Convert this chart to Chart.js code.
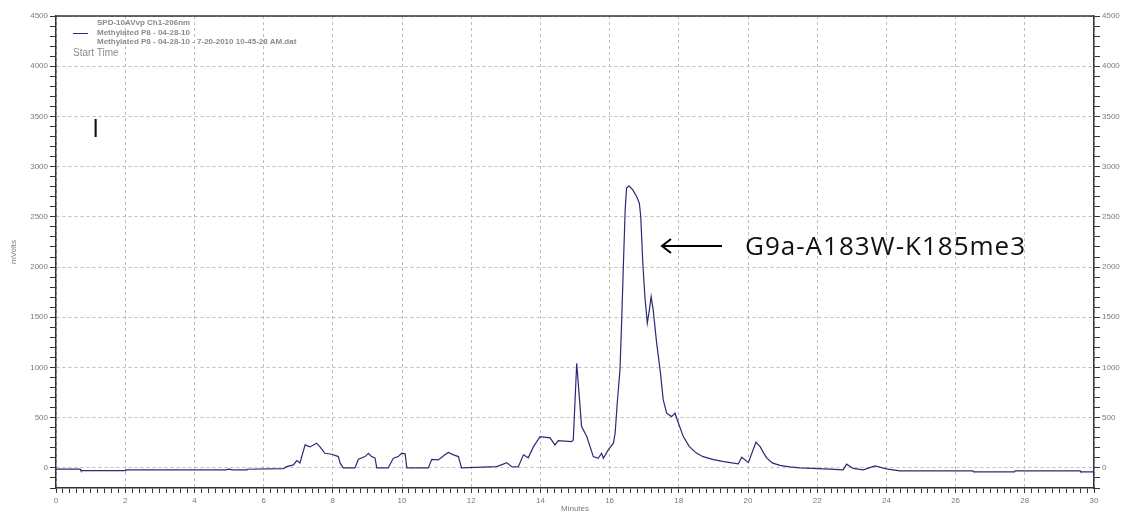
<!DOCTYPE html>
<html>
<head>
<meta charset="utf-8">
<script src="https://cdn.jsdelivr.net/npm/chart.js@4/dist/chart.umd.min.js"></script>
<style>
  body { margin: 0; background: #fff; }
  #wrap { position: relative; width: 1131px; height: 514px; overflow: hidden; }
  .note { position: absolute; white-space: nowrap; font-family: "Liberation Sans", Arial, sans-serif; }
  .leg { color: #8a8a8a; font-size: 8px; font-weight: bold; line-height: 9px; }
  .big { font-family: "Open Sans", sans-serif; font-size: 26px; color: #111; line-height: 1; }
</style>
</head>
<body>
<div id="wrap">
  <canvas id="hplc-chart" width="1131" height="514"></canvas>
  <div class="note leg" style="left:97px; top:18px;">SPD-10AVvp Ch1-206nm</div>
  <div class="note leg" style="left:97px; top:28px;">Methylated P8 - 04-28-10</div>
  <div class="note leg" style="left:97px; top:37px;">Methylated P8 - 04-28-10 - 7-20-2010 10-45-28 AM.dat</div>
  <div class="note" style="left:73px; top:33px; width:15px; height:0; border-top:1px solid #2b2b75;"></div>
  <div class="note" style="left:73px; top:47px; font-size:10px; color:#8a8a8a;">Start Time</div>
  <div class="note big" style="left:92px; top:114px;">I</div>
  <div class="note big" style="left:745px; top:232px; letter-spacing:1px;">G9a-A183W-K185me3</div>
</div>
<script>
// trace (minutes, mVolts)
var minutes = [0, 0.7, 0.72, 2.0, 2.02, 4.9, 5.0, 5.1, 5.5, 5.52, 6.57, 6.67, 6.86, 6.96, 7.05, 7.2, 7.34, 7.53, 7.63, 7.77, 7.97, 8.16, 8.21, 8.3,
  8.64, 8.74, 8.93, 9.03, 9.12, 9.22, 9.27, 9.6, 9.75, 9.89, 9.99, 10.09, 10.14, 10.76, 10.86, 11.05, 11.24, 11.34, 11.49, 11.63, 11.72,
  12.74, 13.03, 13.17, 13.36, 13.51, 13.65, 13.8, 13.99, 14.28, 14.42, 14.52, 14.9, 14.95, 15.05, 15.19, 15.34, 15.53, 15.67, 15.77, 15.82,
  15.96, 16.11, 16.16, 16.22, 16.3, 16.35, 16.4, 16.45, 16.49, 16.56, 16.67, 16.78, 16.86, 16.9, 16.96, 17.02, 17.09, 17.15, 17.2, 17.26,
  17.36, 17.46, 17.55, 17.65, 17.79, 17.89, 17.99, 18.13, 18.3, 18.5, 18.7, 19.0, 19.3, 19.72, 19.82, 20.01, 20.23, 20.35, 20.45, 20.54,
  20.7, 20.92, 21.2, 21.5, 22.37, 22.75, 22.85, 23.04, 23.33, 23.67, 24.0, 24.39, 26.5, 26.52, 27.7, 27.72, 29.6, 29.62, 30];
var mvolts = [-13, -13, -27, -27, -20, -20, -12, -20, -20, -13, -7, 13, 30, 73, 50, 229, 209, 246, 209, 146, 136, 113, 50, 0,
  0, 86, 113, 146, 113, 100, 0, 0, 96, 113, 146, 140, 0, 0, 86, 80, 130, 153, 130, 113, 0,
  13, 53, 13, 10, 130, 100, 212, 312, 299, 229, 272, 262, 279, 1043, 411, 312, 113, 96, 146, 96,
  179, 246, 345, 644, 976, 1474, 2039, 2570, 2786, 2809, 2769, 2702, 2636, 2503, 2039, 1706, 1441, 1574, 1706, 1574,
  1242, 976, 677, 545, 511, 545, 445, 312, 215, 150, 112, 82, 62, 40, 106, 53, 256, 212, 150, 100,
  50, 25, 10, 0, -13, -20, 37, -5, -20, 20, -10, -30, -30, -40, -40, -30, -30, -40, -40];

var xMajor = 2;
var yMajor = 500;

function isMajor(v, step) {
  var r = v / step;
  return Math.abs(r - Math.round(r)) < 1e-6;
}

var points = minutes.map(function (m, i) { return { x: m, y: mvolts[i] }; });

var tickFont = { family: 'Liberation Sans, Arial, sans-serif', size: 8 };
var gridGray = '#bdbdbd';
var gridColorY = function (c) { return isMajor(c.tick.value, yMajor) ? gridGray : 'rgba(0,0,0,0)'; };

// solid line along the top of the plot frame
var topFrame = {
  id: 'topFrame',
  afterDraw: function (chart) {
    var a = chart.chartArea, ctx = chart.ctx;
    ctx.save();
    ctx.strokeStyle = '#333';
    ctx.lineWidth = 1.5;
    ctx.beginPath();
    ctx.moveTo(a.left, a.top);
    ctx.lineTo(a.right, a.top);
    ctx.stroke();
    // arrow pointing at the main peak
    ctx.strokeStyle = '#000';
    ctx.lineWidth = 2;
    ctx.beginPath();
    ctx.moveTo(722, 246);
    ctx.lineTo(662, 246);
    ctx.moveTo(671, 239);
    ctx.lineTo(662, 246);
    ctx.lineTo(671, 253);
    ctx.stroke();
    ctx.restore();
  }
};

var yAxisCommon = {
  type: 'linear',
  min: -200,
  max: 4500,
  ticks: {
    stepSize: 100,
    autoSkip: false,
    font: tickFont,
    color: '#7a7a7a',
    padding: 2,
    callback: function (v) { return isMajor(v, yMajor) ? v : ''; }
  },
  border: { display: true, color: '#333', width: 1.5, dash: [3, 3] }
};

var chart = new Chart(document.getElementById('hplc-chart'), {
  type: 'line',
  data: {
    datasets: [{
      label: 'Methylated P8 - 04-28-10',
      data: points,
      borderColor: '#2b2b75',
      borderWidth: 1.2,
      pointRadius: 0,
      tension: 0,
      yAxisID: 'y'
    }]
  },
  options: {
    responsive: false,
    animation: false,
    layout: { padding: { top: 16, left: 0, right: 0, bottom: 0 } },
    plugins: { legend: { display: false }, tooltip: { enabled: false } },
    scales: {
      x: {
        type: 'linear',
        min: 0,
        max: 30,
        ticks: {
          stepSize: 0.2,
          autoSkip: false,
          maxRotation: 0,
          font: tickFont,
          color: '#7a7a7a',
          padding: 3,
          callback: function (v) { return isMajor(v, xMajor) ? Math.round(v) : ''; }
        },
        grid: {
          color: function (c) { return isMajor(c.tick.value, xMajor) ? gridGray : 'rgba(0,0,0,0)'; },
          tickColor: '#333',
          tickLength: 5
        },
        border: { display: true, color: '#333', width: 1.5, dash: [3, 3] },
        title: { display: true, text: 'Minutes', font: tickFont, color: '#7a7a7a', padding: 0 },
        afterFit: function (s) { s.height = 26; }
      },
      y: Object.assign({}, yAxisCommon, {
        position: 'left',
        grid: { color: gridColorY, tickColor: '#333', tickLength: 6 },
        title: { display: true, text: 'mVolts', font: tickFont, color: '#7a7a7a', padding: { top: 9, bottom: 0 } },
        afterFit: function (s) { s.width = 56; }
      }),
      y2: Object.assign({}, yAxisCommon, {
        position: 'right',
        grid: { drawOnChartArea: false, tickColor: '#333', tickLength: 6 },
        afterFit: function (s) { s.width = 37; }
      })
    }
  },
  plugins: [topFrame]
});
</script>
</body>
</html>
